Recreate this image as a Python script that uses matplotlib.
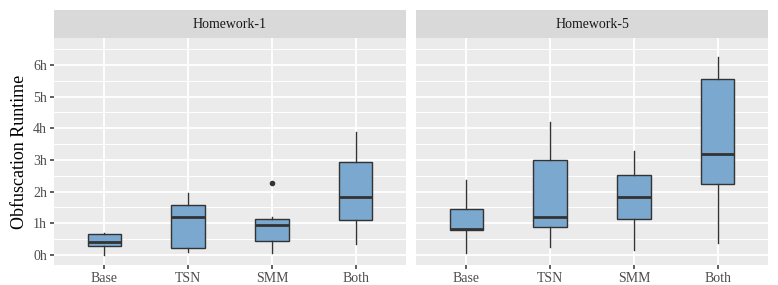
import matplotlib.pyplot as plt
from matplotlib.ticker import FuncFormatter

# Datos (horas)
categories = ["Base", "TSN", "SMM", "Both"]
facets = ["Homework-1", "Homework-5"]

hw1_low = [0.00, 0.08, 0.05, 0.35]
hw1_q1 = [0.28, 0.22, 0.45, 1.09]
hw1_med = [0.41, 1.20, 0.93, 1.83]
hw1_q3 = [0.65, 1.56, 1.14, 2.94]
hw1_high = [0.68, 1.95, 1.19, 3.89]
hw1_out = [[], [], [2.26], []]

hw5_low = [0.07, 0.24, 0.16, 0.39]
hw5_q1 = [0.79, 0.89, 1.13, 2.23]
hw5_med = [0.81, 1.20, 1.83, 3.17]
hw5_q3 = [1.45, 2.99, 2.51, 5.55]
hw5_high = [2.36, 4.19, 3.29, 6.24]
hw5_out = [[], [], [], []]

panels = [
    (hw1_low, hw1_q1, hw1_med, hw1_q3, hw1_high, hw1_out),
    (hw5_low, hw5_q1, hw5_med, hw5_q3, hw5_high, hw5_out),
]

plt.rcParams['font.family'] = ['Liberation Serif', 'DejaVu Serif']

fig = plt.figure(figsize=(7.78, 2.85), dpi=100)
W, H = 778, 285
panel_x = [(54, 406), (416, 768)]
top, bottom = 38.3, 265
strip_top = 10

for i, (x0, x1) in enumerate(panel_x):
    ax = fig.add_axes([x0 / W, 1 - bottom / H, (x1 - x0) / W, (bottom - top) / H])
    low, q1, med, q3, high, out = panels[i]
    stats = []
    for j in range(len(categories)):
        stats.append(dict(whislo=low[j], q1=q1[j], med=med[j], q3=q3[j],
                          whishi=high[j], fliers=out[j]))
    ax.bxp(stats, positions=range(1, 5), widths=0.4, patch_artist=True,
           showcaps=False,
           boxprops=dict(facecolor='#7BA8CF', edgecolor='#333333', linewidth=1.0),
           medianprops=dict(color='#333333', linewidth=2.0),
           whiskerprops=dict(color='#333333', linewidth=1.0),
           flierprops=dict(marker='o', markersize=3, markerfacecolor='#333333',
                           markeredgecolor='#333333'),
           zorder=3)

    ax.set_facecolor('#EBEBEB')
    for s in ax.spines.values():
        s.set_visible(False)
    ax.set_xlim(0.4, 4.6)
    ax.set_ylim(-0.32, 6.84)
    ax.set_xticks(range(1, 5))
    ax.set_xticklabels(categories)
    ax.set_yticks(range(0, 7))
    ax.set_yticks([k + 0.5 for k in range(0, 7)], minor=True)
    ax.yaxis.set_major_formatter(FuncFormatter(lambda v, p: f'{int(v)}h'))
    ax.grid(True, which='major', color='white', linewidth=1.3, zorder=0)
    ax.grid(True, which='minor', axis='y', color='white', linewidth=0.7, zorder=0)
    ax.set_axisbelow(True)
    ax.tick_params(axis='both', which='major', length=3, width=1.1, color='#333333',
                   labelcolor='#4D4D4D', labelsize=10, pad=2)
    ax.tick_params(axis='both', which='minor', length=0)
    if i == 0:
        ax.set_ylabel('Obfuscation Runtime', fontsize=13, color='black', labelpad=4)
    else:
        ax.tick_params(axis='y', which='major', left=False, labelleft=False)

    # tira del facet
    sax = fig.add_axes([x0 / W, 1 - top / H, (x1 - x0) / W, (top - strip_top) / H])
    sax.set_facecolor('#D9D9D9')
    sax.set_xticks([])
    sax.set_yticks([])
    for s in sax.spines.values():
        s.set_visible(False)
    sax.text(0.5, 0.5, facets[i], ha='center', va='center', fontsize=10,
             color='#1A1A1A', transform=sax.transAxes)

plt.savefig('out.png', dpi=100)
